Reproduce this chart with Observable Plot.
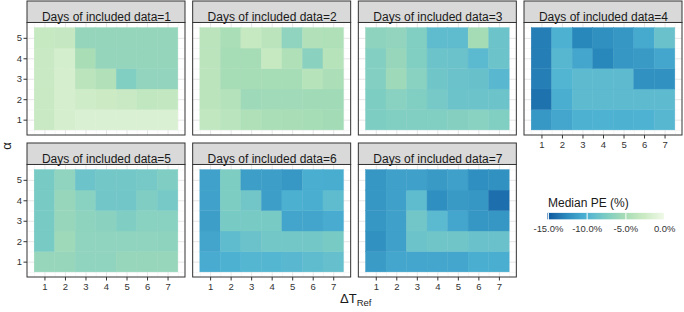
<!DOCTYPE html>
<html>
<head>
<meta charset="utf-8">
<script src="https://cdn.jsdelivr.net/npm/d3@7"></script>
<script src="https://cdn.jsdelivr.net/npm/@observablehq/plot@0.6"></script>
<style>
  body { margin: 0; background: #fff; font-family: "Liberation Sans", Arial, Helvetica, sans-serif; }
  #chart { position: relative; width: 684px; height: 312px; overflow: hidden; }
  #chart > svg { position: absolute; left: 0; top: 0; }
  .ylab { position: absolute; left: 0px; top: 139px; width: 14px; height: 14px; font-size: 13px; line-height: 14px; text-align: center; color: #1a1a1a; transform: rotate(-90deg); }
  .xlab { position: absolute; left: 340px; top: 292px; font-size: 13px; line-height: 13px; color: #1a1a1a; white-space: nowrap; }
  .xlab sub { font-size: 9.5px; vertical-align: -3px; }
  .legtitle { position: absolute; left: 548px; top: 197px; font-size: 12px; line-height: 12px; color: #1a1a1a; white-space: nowrap; }
  #legend { position: absolute; left: 532px; top: 195px; }
  #legend svg .tick line { stroke: #fff; stroke-width: 1; }
  #legend svg .tick text { fill: #333; }
</style>
</head>
<body>
<div id="chart"></div>
<script>
// ---- data ----
const dTRef = [1, 2, 3, 4, 5, 6, 7];          // x: ΔT_Ref
const alphas = [1, 2, 3, 4, 5];               // y: α
const days = [1, 2, 3, 4, 5, 6, 7];           // facets: days of included data
const xBreaks = [1, 2, 3, 4, 5, 6, 7];
const yBreaks = [1, 2, 3, 4, 5];
const xMinorBreaks = [0.5, 1.5, 2.5, 3.5, 4.5, 5.5, 6.5, 7.5];
const yMinorBreaks = [0.5, 1.5, 2.5, 3.5, 4.5, 5.5];
const legendBreaks = [-15, -10, -5, 0];

// Median PE (%) ; rows: α = 1..5 ; columns: ΔT_Ref = 1..7
const pe1 = [
  [-2.8, -1.9, -1.6, -1.6, -1.6, -1.6, -1.6],
  [-2.8, -1.9, -2.3, -2.5, -2.8, -3.3, -3.1],
  [-2.8, -1.9, -3.7, -4.4, -7.2, -6.3, -6.3],
  [-2.8, -2.0, -5.0, -6.2, -6.2, -6.1, -6.1],
  [-2.9, -3.0, -6.1, -6.1, -6.1, -6.1, -6.1]
];
const pe2 = [
  [-3.3, -3.8, -4.5, -4.9, -5.0, -5.1, -5.3],
  [-3.7, -4.2, -5.6, -5.5, -5.5, -5.4, -5.4],
  [-3.7, -5.1, -5.1, -5.1, -5.1, -4.0, -4.7],
  [-3.7, -5.1, -5.1, -2.9, -4.5, -6.7, -4.0],
  [-3.7, -4.9, -2.9, -3.7, -6.4, -4.4, -4.5]
];
const pe3 = [
  [-7.4, -7.2, -7.2, -7.2, -7.0, -6.8, -7.2],
  [-7.4, -6.8, -7.2, -7.8, -8.4, -8.4, -8.4],
  [-7.1, -5.6, -6.8, -8.2, -8.5, -8.7, -9.5],
  [-7.1, -6.0, -7.2, -8.4, -8.5, -9.4, -8.4],
  [-6.5, -6.3, -7.2, -9.2, -9.2, -5.2, -8.4]
];
const pe4 = [
  [-11.7, -10.8, -10.1, -10.0, -10.1, -10.0, -9.6],
  [-13.7, -10.3, -9.3, -9.3, -9.3, -9.3, -9.3],
  [-13.1, -9.8, -9.3, -9.3, -9.3, -12.1, -12.1],
  [-13.1, -9.6, -10.8, -12.7, -11.8, -11.6, -10.8],
  [-13.1, -10.1, -12.7, -12.2, -11.8, -10.6, -8.6]
];
const pe5 = [
  [-6.0, -6.0, -6.4, -6.4, -6.0, -6.0, -6.0],
  [-7.7, -5.6, -6.4, -6.4, -6.4, -6.4, -6.5],
  [-7.7, -6.0, -6.5, -6.7, -7.3, -6.8, -6.8],
  [-7.7, -6.0, -6.8, -8.1, -8.1, -7.3, -7.8],
  [-7.7, -6.4, -8.4, -8.0, -8.0, -7.8, -7.3]
];
const pe6 = [
  [-10.5, -10.1, -9.7, -9.7, -9.5, -9.2, -8.8],
  [-10.9, -9.2, -8.5, -8.0, -8.0, -8.0, -7.7],
  [-11.3, -7.7, -7.7, -7.7, -10.9, -10.9, -10.5],
  [-11.1, -7.4, -8.1, -11.3, -10.2, -10.3, -9.2],
  [-11.1, -7.4, -11.3, -11.3, -11.7, -10.3, -10.4]
];
const pe7 = [
  [-11.5, -10.8, -10.8, -10.8, -10.8, -10.3, -10.3],
  [-12.1, -11.2, -8.4, -8.2, -8.2, -8.6, -8.6],
  [-11.8, -11.2, -8.1, -9.4, -10.8, -11.8, -11.8],
  [-11.8, -11.2, -9.2, -12.3, -11.6, -11.8, -13.9],
  [-11.8, -11.2, -11.2, -11.6, -11.2, -12.3, -12.1]
];
const peByDay = [pe1, pe2, pe3, pe4, pe5, pe6, pe7];

// ---- scale settings ----
const X_LIM = [0.15, 7.85];
const Y_LIM = [0.25, 5.75];
const STRIP_TOP = 6.8;
const palette = ["#08589e", "#2b8cbe", "#4eb3d3", "#7bccc4", "#a8ddb5", "#ccebc5", "#f0f9e8"];
const paletteDomain = [-15, -12.5, -10, -7.5, -5, -2.5, 0];
const FONT = '"Liberation Sans", Arial, Helvetica, sans-serif';

// ---- tables ----
const panels = days.map((day, i) => ({day, col: i % 4, row: Math.floor(i / 4)}));
const tiles = panels.flatMap(p => alphas.flatMap((a, ai) => dTRef.map((t, ti) => ({
  ...p, dT: t, alpha: a, pe: peByDay[p.day - 1][ai][ti]
}))));
const cross = (vals) => panels.flatMap(p => vals.map(v => ({...p, v})));

const plot = Plot.plot({
  width: 684,
  height: 312,
  marginTop: 1,
  marginBottom: 35,
  marginLeft: 27,
  marginRight: 2,
  style: {fontFamily: FONT, background: "transparent", color: "#333"},
  fx: {domain: [0, 1, 2, 3], paddingInner: 0.0463, paddingOuter: 0, round: false, axis: null},
  fy: {domain: [0, 1], paddingInner: 0.0563, paddingOuter: 0, round: false, axis: null},
  x: {domain: X_LIM},
  y: {domain: [Y_LIM[0], STRIP_TOP]},
  color: {type: "linear", domain: paletteDomain, range: palette, interpolate: "lab", clamp: true},
  marks: [
    // grid
    Plot.ruleX(cross(xMinorBreaks), {x: "v", y1: Y_LIM[0], y2: Y_LIM[1], fx: "col", fy: "row", stroke: "#f2f2f2", strokeWidth: 0.6}),
    Plot.ruleY(cross(yMinorBreaks), {y: "v", x1: X_LIM[0], x2: X_LIM[1], fx: "col", fy: "row", stroke: "#f2f2f2", strokeWidth: 0.6}),
    Plot.ruleX(cross(xBreaks), {x: "v", y1: Y_LIM[0], y2: Y_LIM[1], fx: "col", fy: "row", stroke: "#e6e6e6", strokeWidth: 1}),
    Plot.ruleY(cross(yBreaks), {y: "v", x1: X_LIM[0], x2: X_LIM[1], fx: "col", fy: "row", stroke: "#e6e6e6", strokeWidth: 1}),
    // tiles
    Plot.rect(tiles, {
      x1: d => d.dT - 0.5, x2: d => d.dT + 0.5,
      y1: d => d.alpha - 0.5, y2: d => d.alpha + 0.5,
      fx: "col", fy: "row", fill: "pe", stroke: "pe", strokeWidth: 0.4
    }),
    // panel border
    Plot.rect(panels, {x1: X_LIM[0], x2: X_LIM[1], y1: Y_LIM[0], y2: Y_LIM[1], fx: "col", fy: "row", fill: "none", stroke: "#333", strokeWidth: 1}),
    // strip
    Plot.rect(panels, {x1: X_LIM[0], x2: X_LIM[1], y1: Y_LIM[1], y2: STRIP_TOP, fx: "col", fy: "row", fill: "#d9d9d9", stroke: "#333", strokeWidth: 1}),
    Plot.text(panels, {
      text: d => `Days of included data=${d.day}`,
      fx: "col", fy: "row", frameAnchor: "top", dy: 11,
      fontSize: 12, fill: "#1a1a1a"
    }),
    // axes
    Plot.axisX({ticks: xBreaks, tickFormat: "d", tickSize: 3.5, tickPadding: 2, fontSize: 9.5, label: null, color: "#333"}),
    Plot.axisY({ticks: yBreaks, tickFormat: "d", tickSize: 3.5, tickPadding: 2, fontSize: 9.5, label: null, color: "#333"})
  ]
});

const chart = document.getElementById("chart");
chart.appendChild(plot);

const ylab = document.createElement("div");
ylab.className = "ylab";
ylab.textContent = "α";
chart.appendChild(ylab);

const xlab = document.createElement("div");
xlab.className = "xlab";
xlab.innerHTML = "ΔT<sub>Ref</sub>";
chart.appendChild(xlab);

const legTitle = document.createElement("div");
legTitle.className = "legtitle";
legTitle.textContent = "Median PE (%)";
chart.appendChild(legTitle);

const legWrap = document.createElement("div");
legWrap.id = "legend";
const leg = plot.legend("color", {
  label: null,
  width: 153,
  height: 43.5,
  marginLeft: 15.5,
  marginRight: 20,
  marginTop: 18,
  marginBottom: 19,
  tickSize: 3,
  ticks: legendBreaks,
  tickFormat: d => d.toFixed(1) + "%",
  style: {fontFamily: FONT, fontSize: "9.5px", background: "transparent"}
});
legWrap.appendChild(leg);
chart.appendChild(legWrap);
</script>
</body>
</html>
